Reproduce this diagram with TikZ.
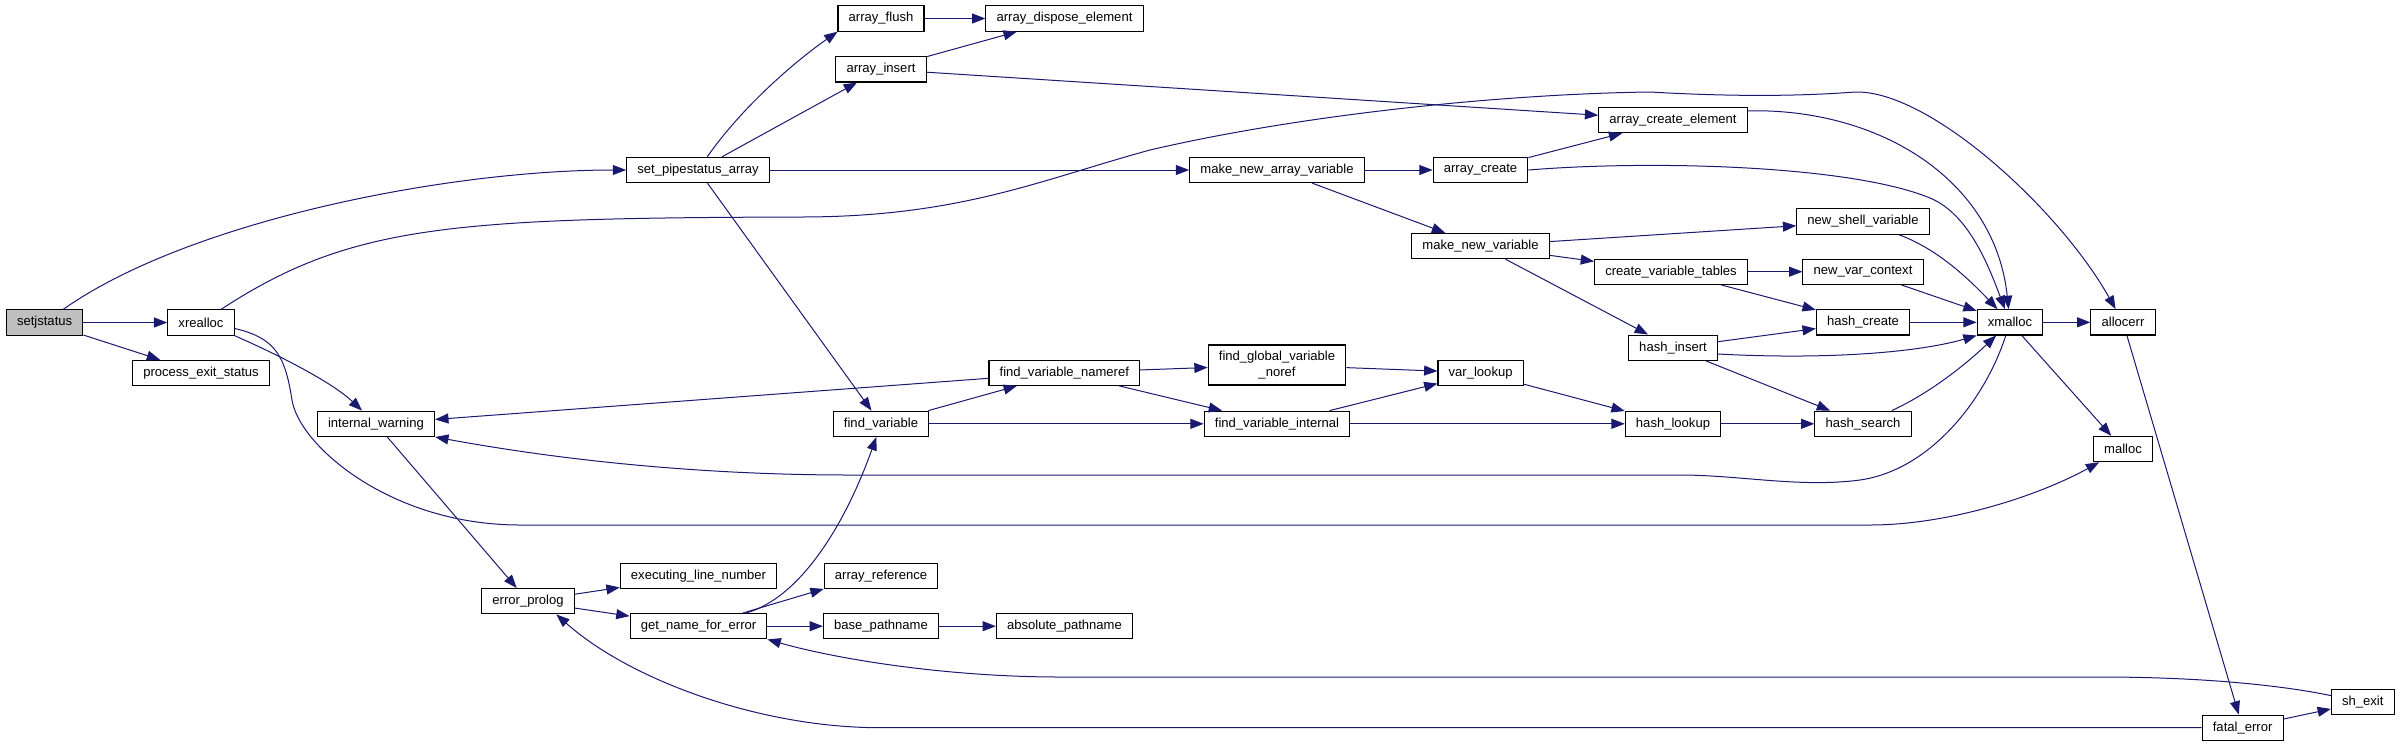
\documentclass[tikz,border=0pt]{standalone}
\usepackage{fontspec}
\setmainfont{Liberation Sans}
\usepackage{xcolor}
\usepackage{tikz}
\usetikzlibrary{arrows.meta}
\definecolor{midnightblue}{HTML}{191970}

\begin{document}
\begin{tikzpicture}[x=0.75pt,y=-0.75pt,>={Triangle[length=10pt,width=7.5pt]},
    fn/.style={draw=black,line width=0.8pt,fill=white,inner xsep=8pt,inner ysep=0pt,
      minimum height=19pt,font=\fontsize{9.8}{11.5}\selectfont},
    call/.style={->,draw=midnightblue,line width=0.75pt}]
    \useasboundingbox (0,0) rectangle (2401,747);
    % Funktionen (Mittelpunkte in Pixeln)
    \node[fn,fill=black!25] (setjstatus) at (44.6,322.5) {setjstatus};
    \node[fn] (xrealloc) at (201,322.5) {xrealloc};
    \node[fn] (pes) at (201,373) {process\_exit\_status};
    \node[fn] (spa) at (698,170) {set\_pipestatus\_array};
    \node[fn] (aflush) at (881,18.5) {array\_flush};
    \node[fn] (adispose) at (1064.5,18.5) {array\_dispose\_element};
    \node[fn] (ainsert) at (881,69.3) {array\_insert};
    \node[fn] (mnav) at (1277,170) {make\_new\_array\_variable};
    \node[fn] (acreate) at (1480.5,170) {array\_create};
    \node[fn] (mnv) at (1480.5,246) {make\_new\_variable};
    \node[fn] (acelem) at (1673,120) {array\_create\_element};
    \node[fn] (nsv) at (1863,221.5) {new\_shell\_variable};
    \node[fn] (cvt) at (1671,271.7) {create\_variable\_tables};
    \node[fn] (nvc) at (1863,271.7) {new\_var\_context};
    \node[fn] (hcreate) at (1863,322.3) {hash\_create};
    \node[fn] (xmalloc) at (2010,322.3) {xmalloc};
    \node[fn] (allocerr) at (2123,322.3) {allocerr};
    \node[fn] (hinsert) at (1673,347.7) {hash\_insert};
    \node[fn] (fvn) at (1064.3,372.7) {find\_variable\_nameref};
    \node[fn,align=center,minimum height=30pt] (fgvn) at (1277,365) {find\_global\_variable\\\_noref};
    \node[fn] (vlookup) at (1480.6,372.7) {var\_lookup};
    \node[fn] (iwarn) at (376,423.8) {internal\_warning};
    \node[fn] (fvar) at (881,423.8) {find\_variable};
    \node[fn] (fvi) at (1277,423.8) {find\_variable\_internal};
    \node[fn] (hlookup) at (1673,423.8) {hash\_lookup};
    \node[fn] (hsearch) at (1863,423.8) {hash\_search};
    \node[fn] (malloc) at (2123,449) {malloc};
    \node[fn] (eprolog) at (528,601.2) {error\_prolog};
    \node[fn] (eln) at (698.5,575.7) {executing\_line\_number};
    \node[fn] (gnfe) at (698.5,626.2) {get\_name\_for\_error};
    \node[fn] (aref) at (881,575.7) {array\_reference};
    \node[fn] (bpath) at (881,626.2) {base\_pathname};
    \node[fn] (apath) at (1064.5,626.2) {absolute\_pathname};
    \node[fn] (shexit) at (2362.8,702.2) {sh\_exit};
    \node[fn] (fatal) at (2242.6,727.7) {fatal\_error};

    % Aufrufe von setjstatus und xrealloc
    \draw[call] (setjstatus) .. controls (190,220) and (450,170) .. (spa.west);
    \draw[call] (setjstatus) -- (xrealloc);
    \draw[call] (setjstatus) -- (pes);
    \draw[call] (xrealloc) .. controls (350,225) and (450,218) .. (800,217)
      .. controls (960,217) and (1040,180) .. (1150,150)
      .. controls (1300,115) and (1500,94) .. (1650,92)
      .. controls (1720,96) and (1790,97) .. (1855,92)
      .. controls (1930,90) and (2060,210) .. (allocerr);
    \draw[call] (xrealloc.south east) .. controls (290,360) and (335,385) .. (iwarn);
    \draw[call] (xrealloc.-10) .. controls (275,338) and (285,355) .. (292,400)
      .. controls (299,445) and (390,525) .. (520,525) -- (1870,525)
      .. controls (1950,525) and (2040,495) .. (malloc);
    % set_pipestatus_array
    \draw[call] (spa) .. controls (740,110) and (790,65) .. (aflush.south west);
    \draw[call] (spa) -- (ainsert);
    \draw[call] (spa) -- (mnav);
    \draw[call] (spa) -- (fvar);
    \draw[call] (aflush) -- (adispose);
    \draw[call] (ainsert) -- (adispose);
    \draw[call] (ainsert) -- (acelem);
    \draw[call] (mnav) -- (acreate);
    \draw[call] (mnav) -- (mnv);
    \draw[call] (acreate) -- (acelem);
    \draw[call] (acreate.east) .. controls (1650,160) and (1850,165) .. (1930,198)
      .. controls (1970,214.5) and (1990,270) .. (xmalloc);
    \draw[call] (acelem.7) .. controls (1880,108) and (1995,180) .. (xmalloc);
    \draw[call] (mnv) -- (nsv);
    \draw[call] (mnv) -- (cvt);
    \draw[call] (mnv) -- (hinsert);
    \draw[call] (nsv) .. controls (1935,248) and (1965,275) .. (xmalloc);
    \draw[call] (cvt) -- (nvc);
    \draw[call] (cvt) -- (hcreate);
    \draw[call] (nvc) -- (xmalloc);
    \draw[call] (hcreate) -- (xmalloc);
    \draw[call] (hinsert) -- (hcreate);
    \draw[call] (hinsert.-8) .. controls (1830,360) and (1920,352) .. (xmalloc.south west);
    \draw[call] (hinsert) -- (hsearch);
    \draw[call] (xmalloc) -- (allocerr);
    \draw[call] (xmalloc) -- (malloc);
    \draw[call] (xmalloc) .. controls (1985,400) and (1930,470) .. (1860,480)
      .. controls (1800,488) and (1740,475) .. (1680,475) -- (850,475)
      .. controls (700,475) and (560,460) .. (iwarn.south east);
    \draw[call] (allocerr) -- (fatal);
    % find_variable und Umgebung
    \draw[call] (fvn) -- (iwarn);
    \draw[call] (fvn) -- (fgvn);
    \draw[call] (fvn) -- (fvi);
    \draw[call] (fvar) -- (fvn);
    \draw[call] (fvar) -- (fvi);
    \draw[call] (fgvn) -- (vlookup);
    \draw[call] (fvi) -- (vlookup);
    \draw[call] (vlookup) -- (hlookup);
    \draw[call] (fvi) -- (hlookup);
    \draw[call] (hlookup) -- (hsearch);
    \draw[call] (hsearch) .. controls (1930,393) and (1965,365) .. (xmalloc);
    % Fehlerausgabe
    \draw[call] (iwarn) -- (eprolog);
    \draw[call] (eprolog) -- (eln);
    \draw[call] (eprolog) -- (gnfe);
    \draw[call] (gnfe) .. controls (800,598) and (845,525) .. (fvar);
    \draw[call] (gnfe) -- (aref.south west);
    \draw[call] (gnfe) -- (bpath);
    \draw[call] (bpath) -- (apath);
    \draw[call] (shexit) .. controls (2280,685) and (2200,677) .. (2100,677) -- (1060,677)
      .. controls (950,677) and (840,660) .. (gnfe.south east);
    \draw[call] (fatal) -- (880,727.7) .. controls (760,727.7) and (630,680) .. (eprolog.-25);
    \draw[call] (fatal) -- (shexit);
\end{tikzpicture}
\end{document}
